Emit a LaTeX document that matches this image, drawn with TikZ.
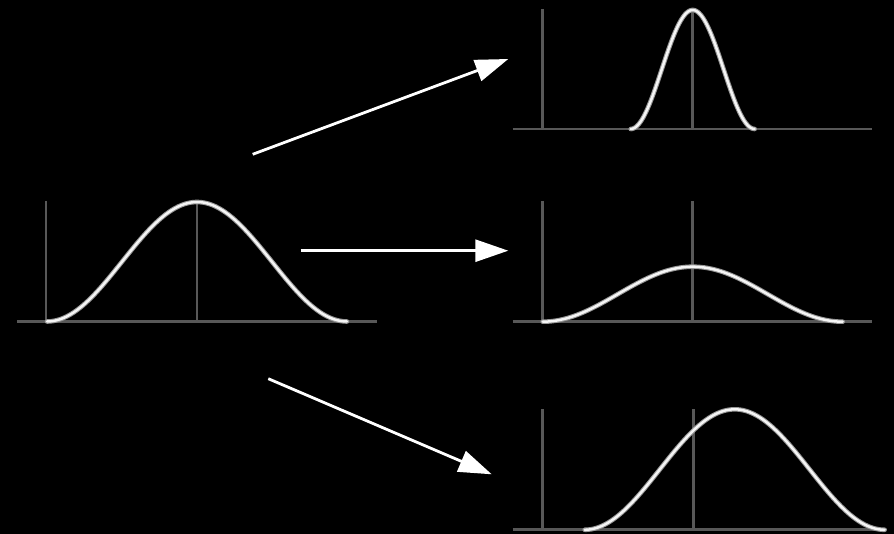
\documentclass[tikz,border=0pt]{standalone}
\usetikzlibrary{arrows.meta}
\definecolor{axisgray}{RGB}{88,88,88}
\definecolor{curveedge}{RGB}{150,150,150}
\definecolor{curvecore}{RGB}{245,245,245}
\tikzset{
  axisline/.style={draw=axisgray, line width=2.7pt},
  curveout/.style={draw=curveedge, line width=4.6pt, line cap=round},
  curvein/.style={draw=curvecore, line width=2.5pt, line cap=round},
  bigarrow/.style={draw=white, line width=2.8pt, -{Triangle[length=33pt,width=22pt]}}
}
% center, half-width, domain start, domain end, base, height
\newcommand\bellcurve[6]{%
  \draw[curveout] plot[domain=#3:#4, samples=90, smooth] (\x, {#5-#6*(1+cos(((\x-#1)/#2)*180))/2});
  \draw[curvein] plot[domain=#3:#4, samples=90, smooth] (\x, {#5-#6*(1+cos(((\x-#1)/#2)*180))/2});
}
\begin{document}
\begin{tikzpicture}[x=1pt,y=-1pt]
\useasboundingbox[fill=black] (0,0) rectangle (894,534);

% left distribution
\draw[axisline] (17,321.5) -- (377,321.5);
\draw[axisline] (46,201) -- (46,321.5);
\draw[axisline] (197,203) -- (197,321.5);
\bellcurve{197}{150}{47}{347}{321.5}{119.5}

% top right
\draw[axisline] (512.7,129) -- (872,129);
\draw[axisline] (542.7,9) -- (542.7,129);
\draw[axisline] (692.7,11) -- (692.7,129);
\bellcurve{692.7}{62}{630.7}{754.7}{129}{119}

% middle right
\draw[axisline] (512.7,321.7) -- (872,321.7);
\draw[axisline] (542.7,201) -- (542.7,321.7);
\draw[axisline] (692.7,201) -- (692.7,321.7);
\bellcurve{692.7}{150}{542.7}{842.7}{321.7}{55}

% bottom right
\draw[axisline] (512.7,529.8) -- (885,529.8);
\draw[axisline] (542.7,409) -- (542.7,529.8);
\draw[axisline] (693.3,409) -- (693.3,529.8);
\bellcurve{734.7}{150}{584.7}{884.7}{529.8}{120.5}

% arrows
\coordinate (t1) at (252.7,154.3);
\coordinate (h1) at (508.3,59);
\coordinate (t2) at (300.7,250.7);
\coordinate (h2) at (508.3,250.7);
\coordinate (t3) at (268.3,378.7);
\coordinate (h3) at (491.7,474.3);
\draw[bigarrow] (t1) -- (h1);
\draw[bigarrow] (t2) -- (h2);
\draw[bigarrow] (t3) -- (h3);
\end{tikzpicture}
\end{document}
